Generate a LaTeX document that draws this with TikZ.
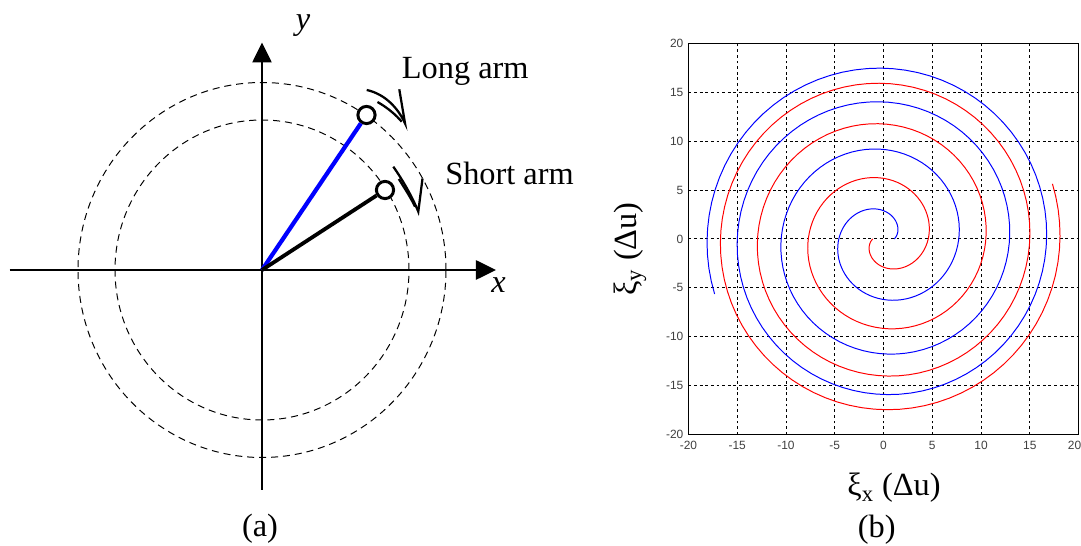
\documentclass[tikz,border=0pt]{standalone}
\usepackage{fontspec}
\setmainfont{Liberation Serif}
\setsansfont{Liberation Sans}
\usetikzlibrary{arrows.meta, positioning, calc}

\begin{document}
\begin{tikzpicture}[x=0.025cm, y=0.025cm, font=\fontsize{23}{28}\selectfont,
        axisline/.style={line width=1.4pt, -{Triangle[length=0.5cm, width=0.48cm]}},
        orbit/.style={line width=0.7pt, dash pattern=on 5pt off 3.5pt},
        armline/.style={line width=3pt},
        marker/.style={circle, draw, fill=white, line width=2.1pt, minimum size=0.43cm, inner sep=0pt},
        turn/.style={line width=1.6pt, line join=miter},
        gridline/.style={line width=0.6pt, dash pattern=on 2pt off 2pt},
        ticklbl/.style={font=\sffamily\fontsize{8.5}{10}\selectfont, text=black!75, inner sep=0pt},
        track/.style={line width=0.7pt}]
    \clip (0,0) rectangle (1081,546);
    % (a) two arms on their orbits
    \coordinate (o)  at (262,276);
    \coordinate (xl) at (9.6,276);
    \coordinate (xr) at (496,276);
    \coordinate (yb) at (262,56);
    \coordinate (yt) at (262,503.5);
    \draw[orbit] (o) ellipse [x radius=184, y radius=187.5];
    \draw[orbit] (o) ellipse [x radius=147, y radius=150];
    \draw[axisline] (xl) -- (xr);
    \draw[axisline] (yb) -- (yt);
    \node[marker] (la) at (366.5,431) {};
    \node[marker] (sa) at (385,356) {};
    \draw[armline, blue] (o) -- (la);
    \draw[armline, line width=2.7pt] (o) -- (sa);
    \draw[turn] (366.7,456) .. controls (385,452) and (398,438) .. (405,422.7) -- (399.3,456.7);
    \draw[turn] (377.5,444) .. controls (388,438) and (396,431) .. (401.7,424.3);
    \draw[turn] (393.3,379.3) .. controls (402,367) and (412,350) .. (418.3,334.3) -- (422.5,367.5);
    \draw[turn] (398.8,367) .. controls (405,357) and (411,348) .. (415,339.3);
    \node[anchor=base west, inner sep=0pt] (lalbl) at (401.7,467.7) {Long arm};
    \node[anchor=base west, inner sep=0pt] (salbl) at (445,361) {Short arm};
    \node (ylbl) at (303,520) {\textit{y}};
    \node (xlbl) at (498.6,260.5) {\textit{x}};
    \node (capa) at (260,17) {(a)};
    % (b) spiral tracks
    \begin{scope}[shift={(22.0825cm,7.675cm)}, x=0.24375cm, y=0.2445cm]
        \foreach \v in {-15,-10,...,15} {
            \draw[gridline] (\v,-20) -- (\v,20);
            \draw[gridline] (-20,\v) -- (20,\v);
        }
        \draw[track] (-20,-20) rectangle (20,20);
        \foreach \v [count=\i] in {-20,-15,...,15} {
            \node[ticklbl] (xt\i) at (\v,-21.1) {\v};
        }
        \node[ticklbl, anchor=east] (xt9) at (20.3,-21.1) {20};
        \foreach \v [count=\i] in {-20,-15,...,20} {
            \node[ticklbl, anchor=east] (yt\i) at (-20.5,\v) {\v};
        }
        \draw[track, blue] plot[domain=0:1278, samples=300]
            ({(1.1+1.83*\x/90-0.044*(\x/90)^2)*cos(\x)}, {(1.1+1.83*\x/90-0.044*(\x/90)^2)*sin(\x)});
        \draw[track, red] plot[domain=0:1278, samples=300]
            ({(1.1+1.83*\x/90-0.044*(\x/90)^2)*cos(\x+180)}, {(1.1+1.83*\x/90-0.044*(\x/90)^2)*sin(\x+180)});
    \end{scope}
    \node (xtitle) at (894,58) {ξ\textsubscript{x} (Δu)};
    \node[rotate=90] (ytitle) at (630,297) {ξ\textsubscript{y} (Δu)};
    \node (capb) at (876.7,16) {(b)};
\end{tikzpicture}
\end{document}
